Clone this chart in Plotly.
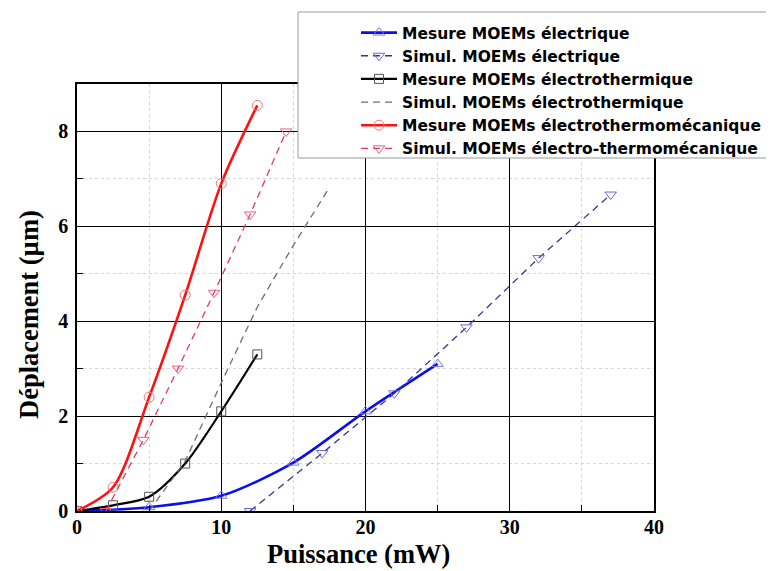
import plotly.graph_objects as go

# ---- data ----
x_mes_elec = [0, 5, 10, 15, 20, 25]
y_mes_elec = [0, 0.08, 0.32, 1.02, 2.1, 3.1]

x_sim_elec = [12, 17, 22, 27, 32, 37]
y_sim_elec = [0, 1.22, 2.48, 3.87, 5.33, 6.67]

x_mes_eth = [0, 2.5, 5, 7.5, 10, 12.5]
y_mes_eth = [0, 0.12, 0.3, 1.0, 2.1, 3.3]

x_sim_eth = [5, 7.5, 10, 12.5, 15, 17.5]
y_sim_eth = [0, 1.05, 2.7, 4.3, 5.6, 6.82]

x_mes_etm = [0, 2.5, 5, 7.5, 10, 12.5]
y_mes_etm = [0, 0.5, 2.4, 4.55, 6.9, 8.55]

x_sim_etm = [2, 4.6, 7, 9.5, 12, 14.5]
y_sim_etm = [0, 1.5, 3.0, 4.6, 6.25, 8.0]

names = [
    "Mesure MOEMs électrique",
    "Simul. MOEMs électrique",
    "Mesure MOEMs électrothermique",
    "Simul. MOEMs électrothermique",
    "Mesure MOEMs électrothermomécanique",
    "Simul. MOEMs électro-thermomécanique",
]

x_ticks = [0, 10, 20, 30, 40]
y_ticks = [0, 2, 4, 6, 8]

fig = go.Figure()

fig.add_trace(go.Scatter(
    x=x_mes_elec, y=y_mes_elec, name=names[0], mode="lines+markers",
    line=dict(color="#0a0ff0", width=2.6, shape="spline", smoothing=0.8),
    marker=dict(symbol="triangle-up-open", size=10, color="#7a7ae8", line=dict(width=1))))
fig.add_trace(go.Scatter(
    x=x_sim_elec, y=y_sim_elec, name=names[1], mode="lines+markers",
    line=dict(color="#35358f", width=1.3, dash="7px,5px"),
    marker=dict(symbol="triangle-down-open", size=10, color="#6a6ad0", line=dict(width=1))))
fig.add_trace(go.Scatter(
    x=x_mes_eth, y=y_mes_eth, name=names[2], mode="lines+markers",
    line=dict(color="black", width=2.2, shape="spline", smoothing=0.8),
    marker=dict(symbol="square-open", size=9, color="#555555", line=dict(width=1))))
fig.add_trace(go.Scatter(
    x=x_sim_eth, y=y_sim_eth, name=names[3], mode="lines",
    line=dict(color="#6e6e6e", width=1.3, dash="7px,5px")))
fig.add_trace(go.Scatter(
    x=x_mes_etm, y=y_mes_etm, name=names[4], mode="lines+markers",
    line=dict(color="#ff1010", width=2.6, shape="spline", smoothing=0.8),
    marker=dict(symbol="circle-open", size=10, color="#f07a7a", line=dict(width=1))))
fig.add_trace(go.Scatter(
    x=x_sim_etm, y=y_sim_etm, name=names[5], mode="lines+markers",
    line=dict(color="#e03a60", width=1.3, dash="7px,5px"),
    marker=dict(symbol="triangle-down-open", size=10, color="#e8607a", line=dict(width=1))))

tickfont = dict(family="Liberation Serif", size=20, color="black", weight="bold")

fig.update_xaxes(
    range=[0, 40], tickvals=x_ticks, ticktext=[str(v) for v in x_ticks],
    showline=True, linecolor="black", linewidth=1.5, mirror=True,
    showgrid=True, gridcolor="black", gridwidth=1, zeroline=False,
    ticks="inside", ticklen=6, tickcolor="black", tickfont=tickfont, ticklabelstandoff=-3,
    minor=dict(dtick=5, tick0=0, showgrid=True, gridcolor="#d6d6d6", griddash="dot",
               ticks="inside", ticklen=6, tickcolor="black"))
fig.update_yaxes(
    range=[0, 9], tickvals=y_ticks, ticktext=[str(v) for v in y_ticks],
    showline=True, linecolor="black", linewidth=1.5, mirror=True,
    showgrid=True, gridcolor="black", gridwidth=1, zeroline=False,
    ticks="inside", ticklen=6, tickcolor="black", tickfont=tickfont,
    ticklabelstandoff=3,
    minor=dict(dtick=1, tick0=0, showgrid=True, gridcolor="#d6d6d6", griddash="dot",
               ticks="inside", ticklen=6, tickcolor="black"))

titlefont = dict(family="Liberation Serif", size=26.5, color="black", weight="bold")
# page body has an 8px margin, so the figure is 8px smaller and everything is offset
W, H = 766, 563
L, R, T, B = 69, 120, 76, 60
pw, ph = W - L - R, H - T - B

def px(xs):  # screen x -> paper x
    return (xs - 8 - L) / pw

def py(ys):  # screen y -> paper y
    return (H - B - (ys - 8)) / ph

fig.add_annotation(text="Puissance (mW)", x=px(358), y=py(554), xref="paper", yref="paper",
                   showarrow=False, font=titlefont, xanchor="center", yanchor="middle",
                   borderpad=0)
fig.add_annotation(text="Déplacement (µm)", x=px(29), y=py(315), xref="paper", yref="paper",
                   showarrow=False, font=titlefont, textangle=-90, xanchor="center", yanchor="middle",
                   borderpad=0)

# legend box
fig.add_shape(type="rect", xref="paper", yref="paper",
              x0=px(298), x1=px(800), y0=py(158), y1=py(12),
              fillcolor="white", line=dict(color="#9a9a9a", width=1), layer="above")

fig.update_layout(
    width=W, height=H, margin=dict(l=L, r=R, t=T, b=B, autoexpand=False),
    paper_bgcolor="white", plot_bgcolor="white",
    showlegend=True,
    legend=dict(x=px(356), y=py(16), xanchor="left", yanchor="top",
                bgcolor="rgba(0,0,0,0)", borderwidth=0, itemwidth=36,
                font=dict(family="DejaVu Sans", size=15.5, color="black", weight="bold"),
                tracegroupgap=0),
)

fig.write_html("out.html")
